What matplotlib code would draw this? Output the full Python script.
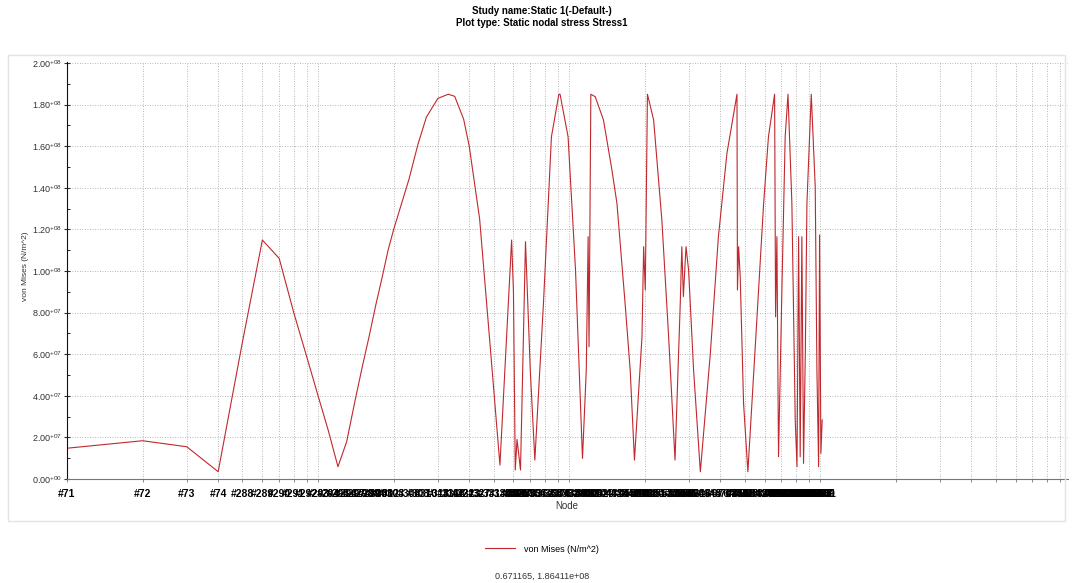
import matplotlib

matplotlib.use("Agg")
import matplotlib.pyplot as plt
import numpy as np
from matplotlib.patches import Rectangle
from matplotlib.ticker import FuncFormatter, LogLocator, MultipleLocator, NullFormatter

plt.rcParams["font.family"] = ["Liberation Sans", "DejaVu Sans"]
plt.rcParams["mathtext.fontset"] = "custom"
plt.rcParams["mathtext.rm"] = "Liberation Sans"
plt.rcParams["mathtext.default"] = "regular"

# position of each node along the path (1 = first node)
NODE_POS = [
    1, 2, 3, 4, 5, 6, 7, 8, 9, 10, 11, 12, 13, 14, 15, 16, 17, 18, 19, 20,
    23, 25, 27, 30, 33, 35, 38, 40, 44, 48,
    53, 59, 60, 61, 62, 64, 67, 70, 73, 79,
    85, 91, 92, 99, 106, 113, 117, 119, 120, 122,
    127, 137, 148, 155, 167, 175, 182, 195, 198, 201,
    205, 217, 234, 249, 264, 277, 281, 285, 292, 299,
    313, 333, 365, 393, 425, 466, 468, 473, 480, 495,
    515, 559, 595, 622, 658, 664, 672, 682, 704, 725,
    744, 771, 795, 808, 820, 832, 845, 858, 872, 885,
    921, 955, 970, 985, 994, 1006, 1018,
]

NODE_IDS = [
    71, 72, 73, 74, 288, 289, 290, 291, 292, 293, 294, 295, 296, 297, 298, 299, 300, 301, 302, 303,
    306, 308, 310, 313, 316, 318, 321, 323, 327, 331,
    336, 342, 343, 344, 345, 347, 350, 353, 356, 362,
    368, 374, 375, 382, 389, 396, 400, 402, 403, 405,
    410, 420, 431, 438, 450, 458, 465, 478, 481, 484,
    488, 500, 517, 532, 547, 560, 564, 568, 575, 582,
    596, 616, 648, 676, 708, 749, 751, 756, 763, 778,
    798, 842, 878, 905, 941, 947, 955, 965, 987, 1008,
    1027, 1054, 1078, 1091, 1103, 1115, 1128, 1141, 1155, 1168,
    1204, 1238, 1253, 1268, 1277, 1289, 1301,
]

# von Mises stress, in units of 1e8 N/m^2
STRESS_E8 = [
    0.148, 0.184, 0.155, 0.035, 0.66, 1.149, 1.061, 0.80, 0.59, 0.40, 0.23, 0.059, 0.18, 0.37, 0.54, 0.69, 0.84, 0.97, 1.10, 1.20,
    1.44, 1.61, 1.74, 1.83, 1.85, 1.84, 1.73, 1.60, 1.25, 0.70,
    0.067, 1.149, 0.90, 0.043, 0.19, 0.043, 1.141, 0.524, 0.091, 0.845,
    1.646, 1.85, 1.85, 1.646, 1.005, 0.099, 0.524, 1.165, 0.636, 1.85,
    1.838, 1.726, 1.486, 1.325, 0.845, 0.524, 0.091, 0.684, 1.117, 0.909,
    1.85, 1.726, 1.245, 0.684, 0.091, 0.845, 1.117, 0.877, 1.117, 1.005,
    0.524, 0.035, 0.604, 1.165, 1.566, 1.85, 0.909, 1.117, 0.973, 0.364,
    0.035, 0.764, 1.325, 1.646, 1.85, 0.780, 1.165, 0.107, 0.925, 1.646,
    1.85, 1.325, 0.284, 0.059, 1.165, 0.107, 1.165, 0.075, 0.604, 1.325,
    1.85, 1.405, 0.524, 0.059, 1.173, 0.123, 0.284,
]

TITLE_LINES = ["Study name:Static 1(-Default-)", "Plot type: Static nodal stress Stress1"]
SERIES_NAME = "von Mises (N/m^2)"
CURSOR_TEXT = "0.671165, 1.86411e+08"

W, H = 1072, 583


def sci_label(v, pos):
    m, e = f"{v:.2e}".split("e")
    return f"{m}$^{{{e}}}$"


fig = plt.figure(figsize=(W / 100, H / 100), dpi=100)
fig.patches.append(
    Rectangle((8 / W, 1 - 521 / H), (1065 - 8) / W, (521 - 55) / H,
              transform=fig.transFigure, fill=False, ec="#e3e3e3", lw=1.0)
)

ax = fig.add_axes([67 / W, 1 - 479 / H, (1068 - 67) / W, (479 - 62) / H])
stress = np.array(STRESS_E8) * 1e8
line, = ax.plot(NODE_POS, stress, color="#c0282d", lw=0.8, label=SERIES_NAME)

ax.set_xscale("log")
ax.set_xlim(1, 9700)
ax.set_ylim(0, 2.005e8)

ax.xaxis.remove_overlapping_locs = False
ax.set_xticks(NODE_POS, [f"#{n}" for n in NODE_IDS])
ax.xaxis.set_minor_locator(LogLocator(base=10, subs=np.arange(1, 10), numticks=50))
ax.xaxis.set_minor_formatter(NullFormatter())
ax.tick_params(axis="x", which="major", length=0, labelsize=7.5, pad=7, colors="#000000")
for lab in ax.get_xticklabels():
    lab.set_fontweight("bold")
ax.tick_params(axis="x", which="minor", length=2, color="#777777")

ax.yaxis.set_major_locator(MultipleLocator(2e7))
ax.yaxis.set_minor_locator(MultipleLocator(1e7))
ax.yaxis.set_major_formatter(FuncFormatter(sci_label))
ax.tick_params(axis="y", which="major", length=4, direction="inout", labelsize=6.5, pad=1.5, colors="#333333")
ax.tick_params(axis="y", which="minor", length=2, direction="in")

grid_style = dict(linestyle=(0, (1, 2)), color="#a0a0a0", lw=0.6)
ax.xaxis.grid(False, which="major")
ax.xaxis.grid(True, which="minor", **grid_style)
ax.yaxis.grid(True, which="major", **grid_style)

for side in ("top", "right"):
    ax.spines[side].set_visible(False)
ax.spines["left"].set_color("#111111")
ax.spines["bottom"].set_color("#777777")

narrow = ["Liberation Sans Narrow", "Liberation Sans", "DejaVu Sans"]
fig.text(542 / W, 1 - 11 / H, TITLE_LINES[0], ha="center", va="center", fontsize=7, weight="bold", family=narrow)
fig.text(542 / W, 1 - 23 / H, TITLE_LINES[1], ha="center", va="center", fontsize=7, weight="bold", family=narrow)
fig.text(567 / W, 1 - 506 / H, "Node", ha="center", va="center", fontsize=7, color="#333333")
fig.text(26 / W, 1 - 266 / H, SERIES_NAME, ha="center", va="center", rotation=90, fontsize=6, color="#333333")

fig.legend(handles=[line], loc="center", bbox_to_anchor=(542 / W, 1 - 549 / H), frameon=False,
           fontsize=6.5, handlelength=3.4, handletextpad=1.0)
fig.text(542 / W, 1 - 576 / H, CURSOR_TEXT, ha="center", va="center", fontsize=6.5, color="#333333")

fig.savefig("out.png", dpi=100)
